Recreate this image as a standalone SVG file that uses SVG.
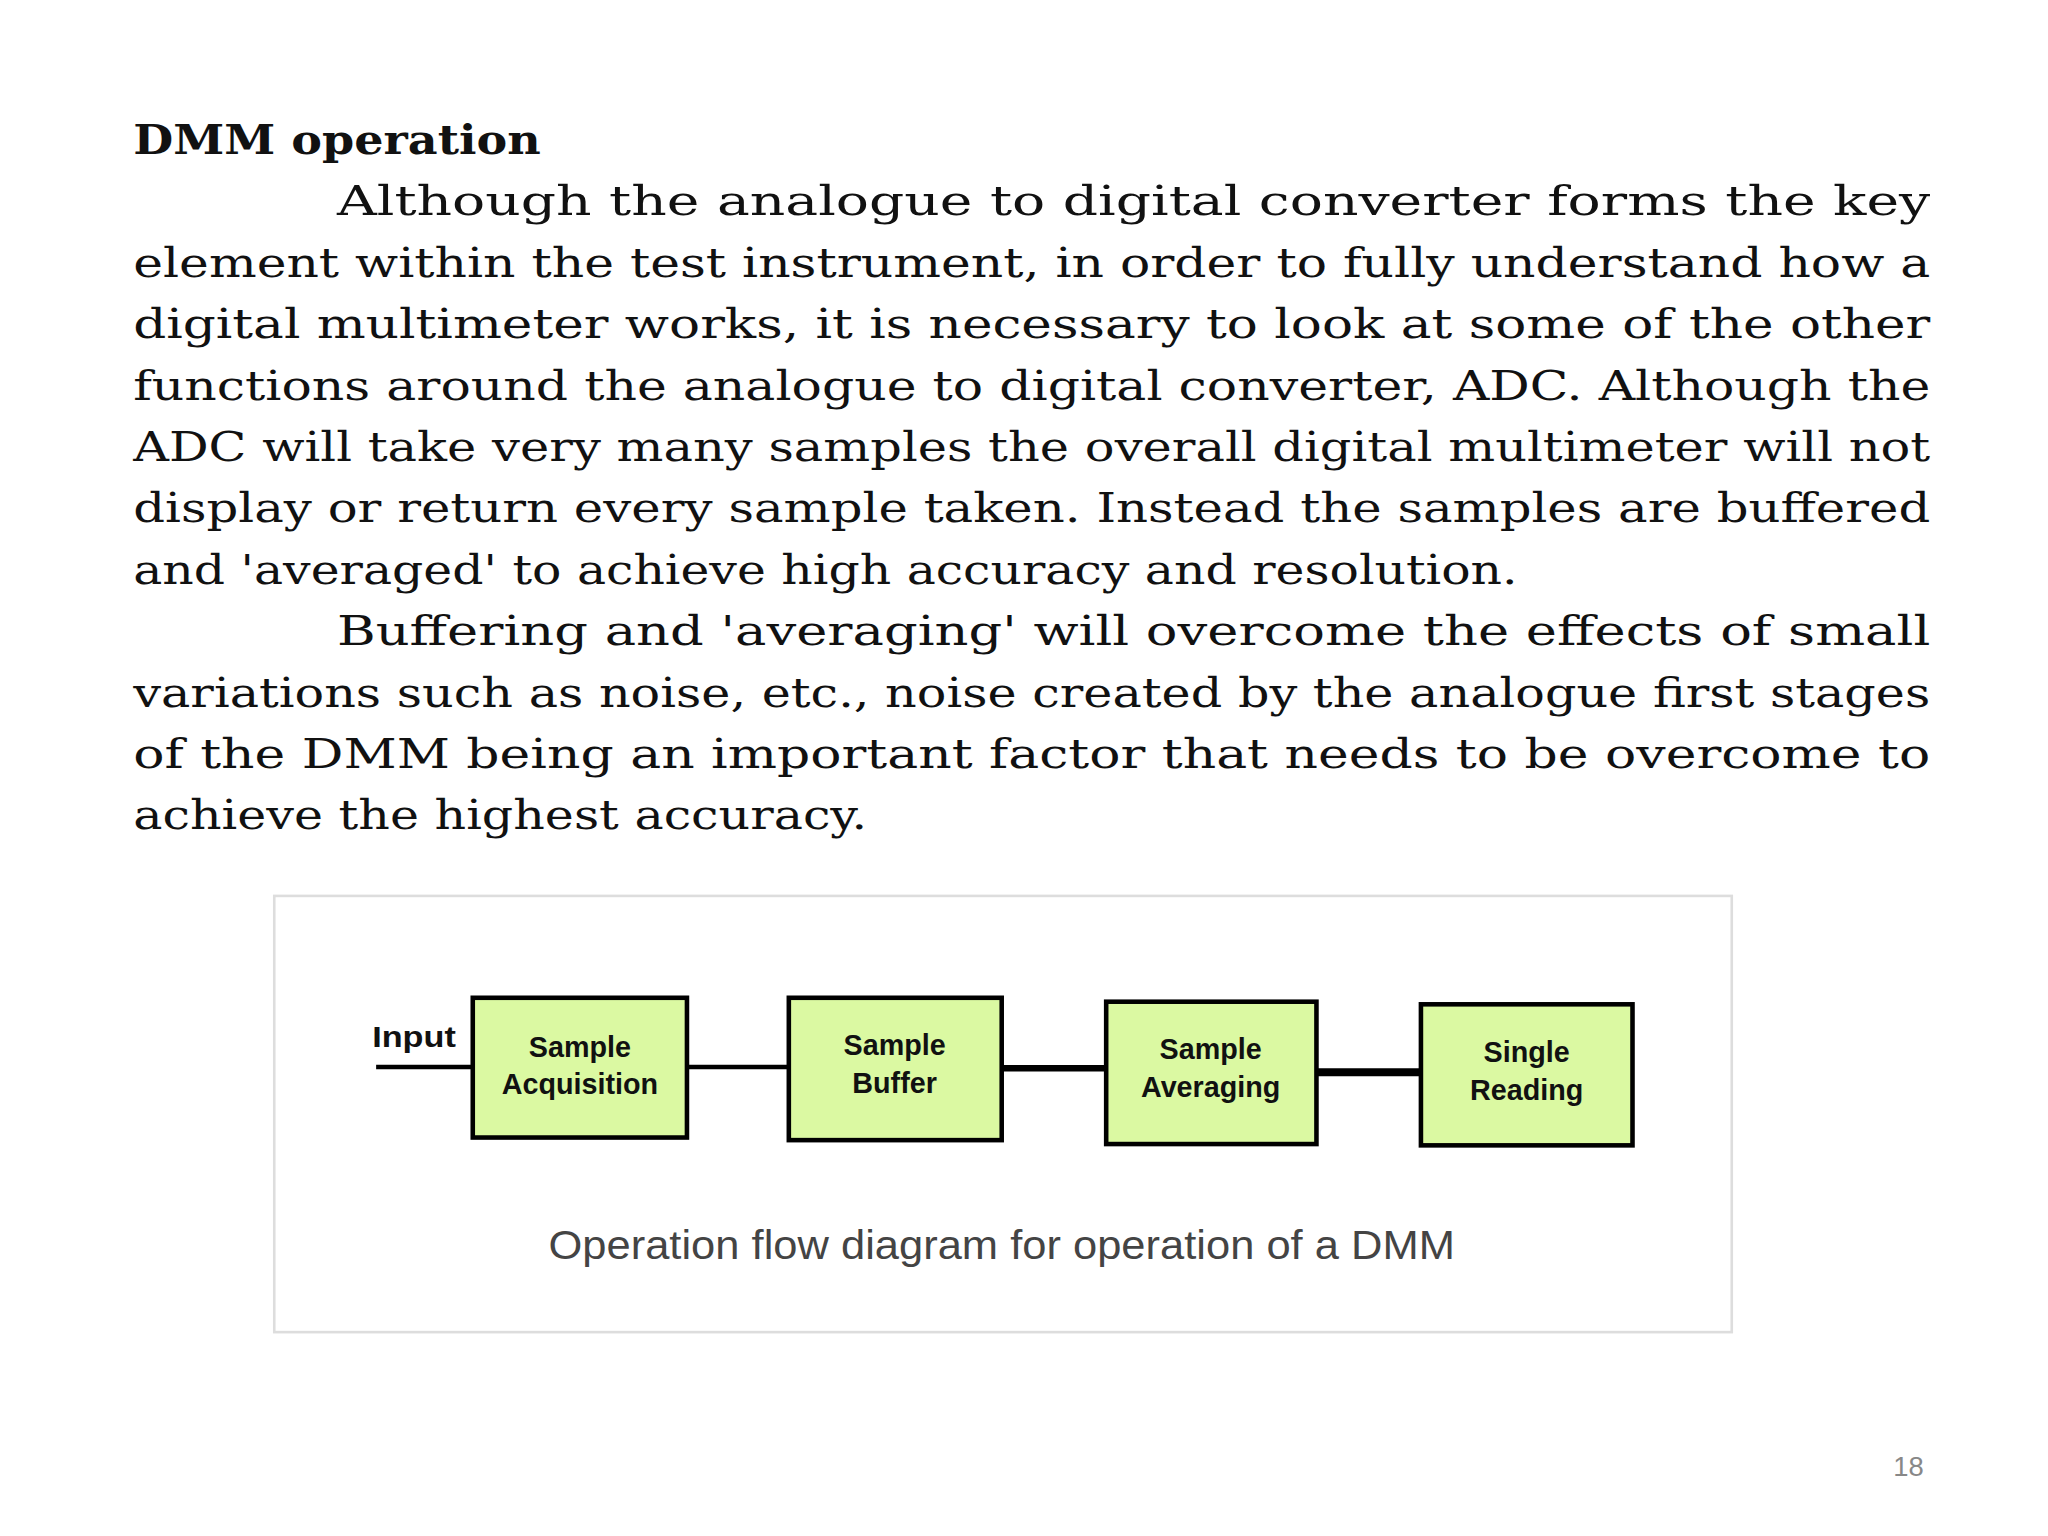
<svg xmlns="http://www.w3.org/2000/svg" width="2048" height="1536" viewBox="0 0 2048 1536">
<style>
.b{font-family:"DejaVu Serif","Liberation Serif",serif;font-size:32px;fill:#111}
.n rect{fill:#dbf9a2;stroke:#000;stroke-width:3.5}
.n text{font-family:"Liberation Sans",Arial,sans-serif;font-weight:bold;font-size:22px;fill:#111;text-anchor:middle}
.c line{stroke:#000}
</style>
<rect width="2048" height="1536" fill="#fff"/>
<g transform="scale(1.306)">
<text class="b" x="102" y="118" font-weight="bold" textLength="312" lengthAdjust="spacingAndGlyphs">DMM operation</text>
<text class="b" x="258" y="165" textLength="1220" lengthAdjust="spacingAndGlyphs">Although the analogue to digital converter forms the key</text>
<text class="b" x="102" y="212" textLength="1376" lengthAdjust="spacingAndGlyphs">element within the test instrument, in order to fully understand how a</text>
<text class="b" x="102" y="259" textLength="1376" lengthAdjust="spacingAndGlyphs">digital multimeter works, it is necessary to look at some of the other</text>
<text class="b" x="102" y="306" textLength="1376" lengthAdjust="spacingAndGlyphs">functions around the analogue to digital converter, ADC. Although the</text>
<text class="b" x="102" y="353" textLength="1376" lengthAdjust="spacingAndGlyphs">ADC will take very many samples the overall digital multimeter will not</text>
<text class="b" x="102" y="400" textLength="1376" lengthAdjust="spacingAndGlyphs">display or return every sample taken. Instead the samples are buffered</text>
<text class="b" x="102" y="447" textLength="1060" lengthAdjust="spacingAndGlyphs">and 'averaged' to achieve high accuracy and resolution.</text>
<text class="b" x="258" y="494" textLength="1220" lengthAdjust="spacingAndGlyphs">Buffering and 'averaging' will overcome the effects of small</text>
<text class="b" x="102" y="541" textLength="1376" lengthAdjust="spacingAndGlyphs">variations such as noise, etc., noise created by the analogue first stages</text>
<text class="b" x="102" y="588" textLength="1376" lengthAdjust="spacingAndGlyphs">of the DMM being an important factor that needs to be overcome to</text>
<text class="b" x="102" y="635" textLength="562" lengthAdjust="spacingAndGlyphs">achieve the highest accuracy.</text>
<rect x="210" y="686" width="1116" height="334" fill="none" stroke="#ddd" stroke-width="2"/>
<g class="c">
<line x1="288" y1="817" x2="362" y2="817" stroke-width="3.5"/>
<line x1="526" y1="817" x2="603" y2="817" stroke-width="3.5"/>
<line x1="767" y1="818" x2="847" y2="818" stroke-width="5"/>
<line x1="1008" y1="821" x2="1088" y2="821" stroke-width="6"/>
</g>
<text x="285" y="802" font-family="Liberation Sans,Arial,sans-serif" font-weight="bold" font-size="22" fill="#111" textLength="64" lengthAdjust="spacingAndGlyphs">Input</text>
<g id="n1" class="n"><rect x="362" y="764" width="164" height="107"/><text x="444" y="809">Sample</text><text x="444" y="838">Acquisition</text></g>
<g id="n2" class="n"><rect x="604" y="764" width="163" height="109"/><text x="685" y="808">Sample</text><text x="685" y="837">Buffer</text></g>
<g id="n3" class="n"><rect x="847" y="767" width="161" height="109"/><text x="927" y="811">Sample</text><text x="927" y="840">Averaging</text></g>
<g id="n4" class="n"><rect x="1088" y="769" width="162" height="108"/><text x="1169" y="813">Single</text><text x="1169" y="842">Reading</text></g>
<text x="767" y="964" text-anchor="middle" font-family="Liberation Sans,Arial,sans-serif" font-size="31" fill="#444" textLength="694" lengthAdjust="spacingAndGlyphs">Operation flow diagram for operation of a DMM</text>
<text x="1473" y="1130" text-anchor="end" font-family="Liberation Sans,Arial,sans-serif" font-size="21" fill="#888">18</text>
</g>
</svg>
